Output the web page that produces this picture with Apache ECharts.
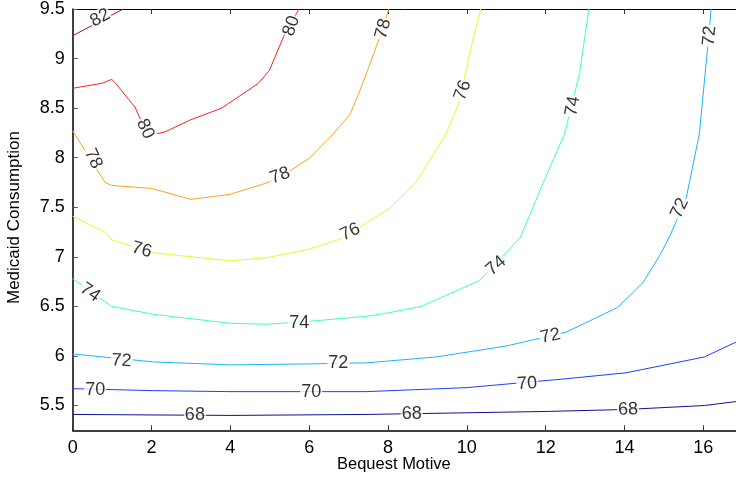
<!DOCTYPE html>
<html>
<head>
<meta charset="utf-8">
<script src="https://cdn.jsdelivr.net/npm/echarts@6/dist/echarts.min.js"></script>
<style>
	html, body { margin: 0; padding: 0; background: #fff; }
	#main { width: 736px; height: 477px; }
</style>
</head>
<body>
<div id="main"></div>
<script>
	// contour levels and their line points [bequest, consumption]
	var levels = [68, 70, 72, 74, 76, 78, 80, 82];
	var colors = ['#10109a', '#1f3dff', '#1cb4ff', '#3effc4', '#d6ff2e', '#ffa41a', '#ff2020', '#a51515'];

	var c68 = [[0, 5.41], [3.99, 5.40], [7.44, 5.41], [12.01, 5.44], [14.04, 5.46], [16.03, 5.50], [16.83, 5.54]];
	var c70 = [[0, 5.67], [2.05, 5.65], [3.99, 5.64], [7.44, 5.64], [9.98, 5.68], [12.52, 5.77], [14.04, 5.83], [16.03, 5.99], [16.83, 6.14]];
	var c72 = [[0, 6.02], [2.05, 5.94], [3.99, 5.91], [6.02, 5.92], [7.44, 5.93], [9.22, 5.99], [11.0, 6.10], [12.52, 6.24],
		[13.83, 6.49], [14.47, 6.74], [14.89, 7.01], [15.14, 7.20], [15.36, 7.40], [15.57, 7.60], [15.9, 8.24], [16.12, 9.15], [16.2, 9.5]];
	var c74 = [[0, 6.78], [0.99, 6.50], [2.05, 6.42], [3.99, 6.33], [4.92, 6.32], [6.02, 6.35], [7.44, 6.40], [7.95, 6.43],
		[8.84, 6.50], [10.32, 6.76], [11.35, 7.19], [11.93, 7.74], [12.48, 8.24], [12.86, 8.85], [12.98, 9.18], [13.1, 9.5]];
	var c76 = [[0, 7.41], [0.82, 7.25], [1.0, 7.17], [2.05, 7.04], [4.0, 6.96], [4.92, 6.99], [6.02, 7.08], [6.87, 7.19],
		[7.44, 7.34], [8.04, 7.49], [8.71, 7.75], [9.47, 8.24], [9.8, 8.55], [9.98, 8.88], [10.15, 9.18], [10.35, 9.5]];
	var c78 = [[0, 8.27], [0.82, 7.75], [0.99, 7.72], [2.0, 7.69], [3.0, 7.58], [3.99, 7.63], [4.96, 7.75], [5.52, 7.87],
		[6.02, 8.0], [6.61, 8.24], [7.04, 8.44], [7.29, 8.68], [7.5, 8.9], [7.82, 9.25], [8.02, 9.5]];
	var c80 = [[0, 8.70], [0.74, 8.75], [0.99, 8.79], [1.07, 8.76], [1.58, 8.51], [1.75, 8.36], [2.0, 8.23], [2.34, 8.26],
		[2.98, 8.38], [3.78, 8.5], [4.71, 8.75], [4.99, 8.88], [5.35, 9.22], [5.74, 9.5]];
	var c82 = [[0, 9.23], [1.28, 9.5]];
	var contours = [c68, c70, c72, c74, c76, c78, c80, c82];

	// inline contour labels
	var labelX = [0.70, 5.55, 1.84, 0.52, 5.26, 7.88, 1.75, 7.04, 9.9, 0.44, 5.75, 10.74, 12.69,
		1.24, 6.74, 12.12, 15.4, 16.16, 0.57, 6.05, 11.53, 3.1, 8.6, 14.09];
	var labelY = [9.41, 9.33, 8.29, 7.99, 7.82, 9.30, 7.07, 7.25, 8.68, 6.64, 6.33, 6.91, 8.52,
		5.95, 5.93, 6.20, 7.49, 9.23, 5.66, 5.64, 5.72, 5.40, 5.41, 5.46];
	var labelText = ['82', '80', '80', '78', '78', '78', '76', '76', '76', '74', '74', '74', '74',
		'72', '72', '72', '72', '72', '70', '70', '70', '68', '68', '68'];
	var labelAngle = [28, 72, -65, -65, 20, 75, -15, 25, 70, -35, 0, 40, 80,
		-3, 0, 12, 65, 85, 0, 0, 4, 0, 0, 2];

	var xTicks = [0, 2, 4, 6, 8, 10, 12, 14, 16];
	var yTicks = [5.5, 6, 6.5, 7, 7.5, 8, 8.5, 9, 9.5];

	var chart = echarts.init(document.getElementById('main'));
	var font = 'Liberation Sans, Arial, sans-serif';

	var series = contours.map(function (pts, i) {
		return {
			name: String(levels[i]),
			type: 'line',
			data: pts,
			showSymbol: false,
			symbol: 'none',
			lineStyle: { color: colors[i], width: 1 },
			z: 2
		};
	});

	var labelData = labelText.map(function (t, i) {
		return {
			value: [labelX[i], labelY[i], t],
			label: { rotate: labelAngle[i] }
		};
	});
	series.push({
		type: 'scatter',
		data: labelData,
		symbolSize: 0,
		z: 5,
		label: {
			show: true,
			position: 'inside',
			formatter: function (p) { return p.value[2]; },
			color: '#000',
			textBorderWidth: 0,
			fontFamily: font,
			fontSize: 18,
			backgroundColor: '#fff',
			padding: [0, 1]
		}
	});

	var option = {
		animation: false,
		backgroundColor: '#fff',
		grid: { left: 72.7, right: 0, top: 8.7, bottom: 46.7 },
		xAxis: [{
			type: 'value',
			min: 0,
			max: 16.83,
			axisLine: { lineStyle: { color: '#000', width: 1.5 } },
			axisTick: { inside: true, length: 5, customValues: xTicks, lineStyle: { color: '#333' } },
			axisLabel: { customValues: xTicks, color: '#000', fontFamily: font, fontSize: 18, margin: 9 },
			splitLine: { show: false }
		}, {
			type: 'value',
			position: 'top',
			min: 0,
			max: 16.83,
			axisLine: { lineStyle: { color: '#000', width: 1 } },
			axisTick: { inside: true, length: 5, customValues: xTicks, lineStyle: { color: '#333' } },
			axisLabel: { show: false },
			splitLine: { show: false }
		}],
		yAxis: {
			type: 'value',
			min: 5.25,
			max: 9.5,
			axisLine: { lineStyle: { color: '#000', width: 1.5 } },
			axisTick: { inside: true, length: 5, customValues: yTicks, lineStyle: { color: '#555' } },
			axisLabel: { customValues: yTicks, color: '#000', fontFamily: font, fontSize: 18, margin: 8 },
			splitLine: { show: false }
		},
		graphic: [{
			type: 'text',
			left: 337,
			top: 456,
			style: { text: 'Bequest Motive', fill: '#000', font: '16.5px ' + font }
		}, {
			type: 'text',
			x: 6,
			y: 304,
			rotation: Math.PI / 2,
			style: { text: 'Medicaid Consumption', fill: '#000', font: '17px ' + font }
		}],
		series: series
	};
	chart.setOption(option);
</script>
</body>
</html>
